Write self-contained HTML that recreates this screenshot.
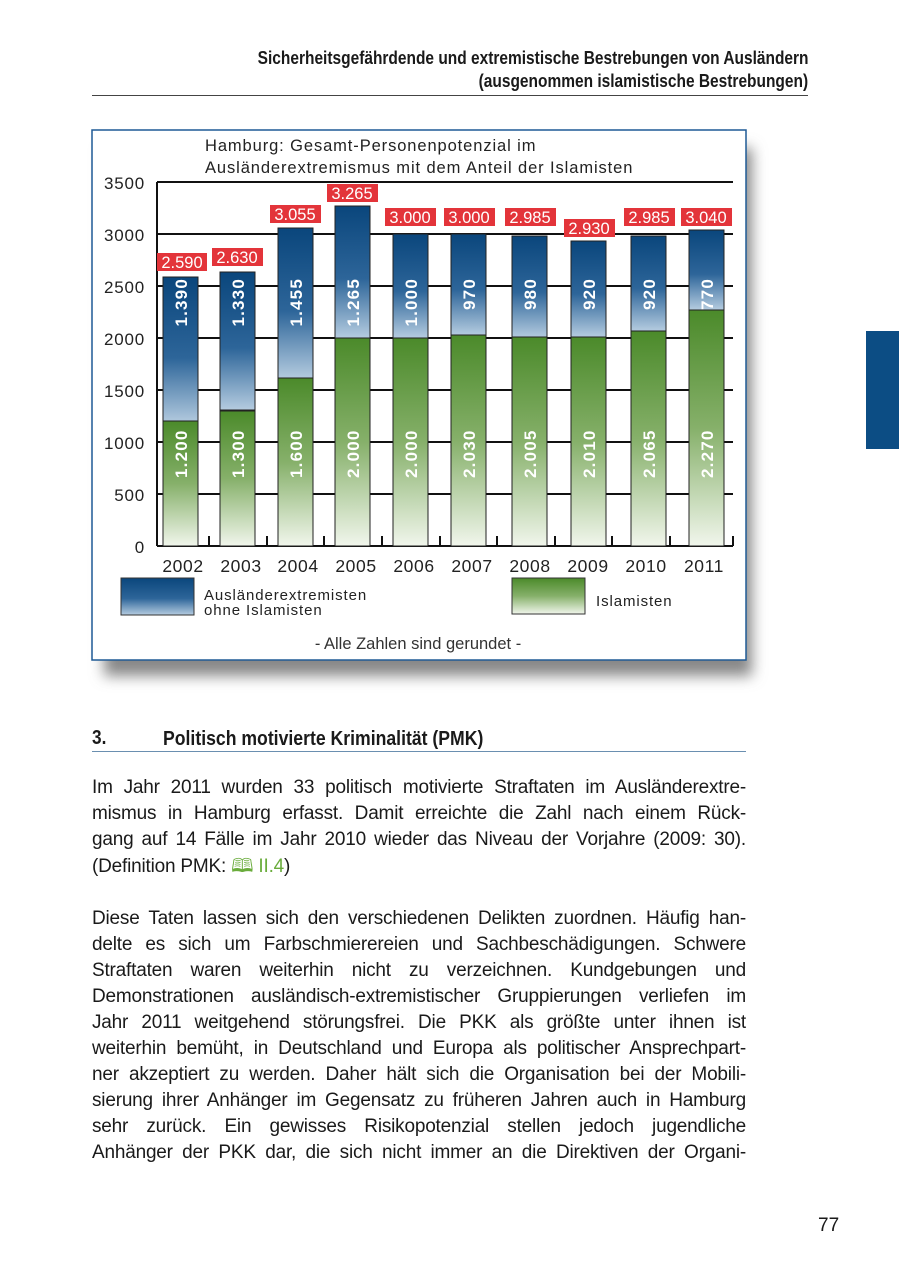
<!DOCTYPE html>
<html><head><meta charset="utf-8">
<style>
body{margin:0;width:900px;height:1276px;background:#fff;position:relative;overflow:hidden;font-family:"Liberation Sans",sans-serif;color:#1a1a1a}
.hd{position:absolute;right:92px;font-weight:bold;font-size:18px;transform:scaleX(0.86);transform-origin:right;white-space:nowrap}
.ln{position:absolute;left:92px;width:654px;font-size:19px;text-align:justify;text-align-last:justify;white-space:nowrap;line-height:22px;letter-spacing:-0.2px}
</style></head><body>
<div class="hd" style="top:48px">Sicherheitsgefährdende und extremistische Bestrebungen von Ausländern</div>
<div class="hd" style="top:71px">(ausgenommen islamistische Bestrebungen)</div>
<div style="position:absolute;left:92px;top:95px;width:716px;height:1px;background:#444"></div>
<div style="position:absolute;left:866px;top:331px;width:33px;height:118px;background:#0c4d84"></div>

<svg style="position:absolute;left:0;top:0" width="900" height="720">
<defs>
<linearGradient id="gb" x1="0" y1="0" x2="0" y2="1"><stop offset="0" stop-color="#0a467c"/><stop offset="0.55" stop-color="#2d6599"/><stop offset="1" stop-color="#b5cce0"/></linearGradient>
<linearGradient id="gg" x1="0" y1="0" x2="0" y2="1"><stop offset="0" stop-color="#4b8a2a"/><stop offset="0.5" stop-color="#86b06a"/><stop offset="1" stop-color="#f1f6ec"/></linearGradient>
<filter id="sh" x="-10%" y="-10%" width="130%" height="130%"><feGaussianBlur stdDeviation="7"/></filter>
</defs>
<rect x="104" y="148" width="648" height="528" fill="#888" filter="url(#sh)"/>
<rect x="92" y="130" width="654" height="530" fill="#fff" stroke="#1f5a95" stroke-width="1.5"/>
<text x="205" y="151" font-size="16.5" letter-spacing="0.9" fill="#222">Hamburg: Gesamt-Personenpotenzial im</text>
<text x="205" y="173" font-size="16.5" letter-spacing="0.9" fill="#222">Ausländerextremismus mit dem Anteil der Islamisten</text>
<g font-size="17" letter-spacing="0.8" fill="#222" text-anchor="end">
<text x="145" y="553">0</text><text x="145" y="501">500</text><text x="145" y="449">1000</text><text x="145" y="397">1500</text><text x="145" y="345">2000</text><text x="145" y="293">2500</text><text x="145" y="241">3000</text><text x="145" y="189">3500</text>
</g>
<g stroke="#111" stroke-width="2">
<line x1="157" y1="182" x2="733" y2="182"/><line x1="157" y1="234" x2="733" y2="234"/><line x1="157" y1="286" x2="733" y2="286"/><line x1="157" y1="338" x2="733" y2="338"/><line x1="157" y1="390" x2="733" y2="390"/><line x1="157" y1="442" x2="733" y2="442"/><line x1="157" y1="494" x2="733" y2="494"/><line x1="157" y1="546" x2="733" y2="546"/>
<line x1="157" y1="182" x2="157" y2="546"/>
</g>
<g stroke="#111" stroke-width="2">
<line x1="209" y1="536" x2="209" y2="546"/><line x1="267" y1="536" x2="267" y2="546"/><line x1="324" y1="536" x2="324" y2="546"/><line x1="382" y1="536" x2="382" y2="546"/><line x1="440" y1="536" x2="440" y2="546"/><line x1="497" y1="536" x2="497" y2="546"/><line x1="555" y1="536" x2="555" y2="546"/><line x1="612" y1="536" x2="612" y2="546"/><line x1="670" y1="536" x2="670" y2="546"/><line x1="733" y1="536" x2="733" y2="546"/>
</g>
<g stroke="#222" stroke-width="1">
<rect x="163" y="277" width="35" height="147" fill="url(#gb)"/><rect x="163" y="421" width="35" height="125" fill="url(#gg)"/>
<rect x="220" y="272" width="35" height="138" fill="url(#gb)"/><rect x="220" y="411" width="35" height="135" fill="url(#gg)"/>
<rect x="278" y="228" width="35" height="151" fill="url(#gb)"/><rect x="278" y="378" width="35" height="168" fill="url(#gg)"/>
<rect x="335" y="206" width="35" height="132" fill="url(#gb)"/><rect x="335" y="338" width="35" height="208" fill="url(#gg)"/>
<rect x="393" y="234" width="35" height="104" fill="url(#gb)"/><rect x="393" y="338" width="35" height="208" fill="url(#gg)"/>
<rect x="451" y="234" width="35" height="101" fill="url(#gb)"/><rect x="451" y="335" width="35" height="211" fill="url(#gg)"/>
<rect x="512" y="236" width="35" height="102" fill="url(#gb)"/><rect x="512" y="337" width="35" height="209" fill="url(#gg)"/>
<rect x="571" y="241" width="35" height="96" fill="url(#gb)"/><rect x="571" y="337" width="35" height="209" fill="url(#gg)"/>
<rect x="631" y="236" width="35" height="95" fill="url(#gb)"/><rect x="631" y="331" width="35" height="215" fill="url(#gg)"/>
<rect x="689" y="230" width="35" height="80" fill="url(#gb)"/><rect x="689" y="310" width="35" height="236" fill="url(#gg)"/>
</g>
<g font-size="17" font-weight="bold" fill="#fff" letter-spacing="1.2">
<text transform="translate(187,278) rotate(-90)" text-anchor="end">1.390</text>
<text transform="translate(244,278) rotate(-90)" text-anchor="end">1.330</text>
<text transform="translate(302,278) rotate(-90)" text-anchor="end">1.455</text>
<text transform="translate(359,278) rotate(-90)" text-anchor="end">1.265</text>
<text transform="translate(417,278) rotate(-90)" text-anchor="end">1.000</text>
<text transform="translate(475,278) rotate(-90)" text-anchor="end">970</text>
<text transform="translate(536,278) rotate(-90)" text-anchor="end">980</text>
<text transform="translate(595,278) rotate(-90)" text-anchor="end">920</text>
<text transform="translate(655,278) rotate(-90)" text-anchor="end">920</text>
<text transform="translate(713,278) rotate(-90)" text-anchor="end">770</text>
<text transform="translate(187,478) rotate(-90)">1.200</text>
<text transform="translate(244,478) rotate(-90)">1.300</text>
<text transform="translate(302,478) rotate(-90)">1.600</text>
<text transform="translate(359,478) rotate(-90)">2.000</text>
<text transform="translate(417,478) rotate(-90)">2.000</text>
<text transform="translate(475,478) rotate(-90)">2.030</text>
<text transform="translate(536,478) rotate(-90)">2.005</text>
<text transform="translate(595,478) rotate(-90)">2.010</text>
<text transform="translate(655,478) rotate(-90)">2.065</text>
<text transform="translate(713,478) rotate(-90)">2.270</text>
</g>
<g fill="#e3343a">
<rect x="157" y="253" width="50" height="18"/><rect x="212" y="248" width="51" height="18"/><rect x="270" y="205" width="51" height="18"/><rect x="327" y="184" width="51" height="18"/><rect x="385" y="208" width="51" height="18"/><rect x="444" y="208" width="51" height="18"/><rect x="505" y="208" width="51" height="18"/><rect x="564" y="219" width="51" height="18"/><rect x="624" y="208" width="51" height="18"/><rect x="681" y="208" width="51" height="18"/>
</g>
<g font-size="16.5" fill="#fff" text-anchor="middle">
<text x="182" y="268">2.590</text><text x="237" y="263">2.630</text><text x="295" y="220">3.055</text><text x="352" y="199">3.265</text><text x="410" y="223">3.000</text><text x="469" y="223">3.000</text><text x="530" y="223">2.985</text><text x="589" y="234">2.930</text><text x="649" y="223">2.985</text><text x="706" y="223">3.040</text>
</g>
<g font-size="17.5" letter-spacing="0.6" fill="#222" text-anchor="middle">
<text x="183" y="572">2002</text><text x="241" y="572">2003</text><text x="298" y="572">2004</text><text x="356" y="572">2005</text><text x="414" y="572">2006</text><text x="472" y="572">2007</text><text x="530" y="572">2008</text><text x="588" y="572">2009</text><text x="646" y="572">2010</text><text x="704" y="572">2011</text>
</g>
<rect x="121" y="578" width="73" height="37" fill="url(#gb)" stroke="#333"/>
<rect x="512" y="578" width="73" height="36" fill="url(#gg)" stroke="#333"/>
<text x="204" y="600" font-size="15" letter-spacing="0.9" fill="#222">Ausländerextremisten</text>
<text x="204" y="615" font-size="15" letter-spacing="0.9" fill="#222">ohne Islamisten</text>
<text x="596" y="606" font-size="15" letter-spacing="0.9" fill="#222">Islamisten</text>
<text x="418" y="649" font-size="16.5" fill="#333" text-anchor="middle">- Alle Zahlen sind gerundet -</text>
</svg>

<div style="position:absolute;left:92px;top:727px;font-weight:bold;font-size:20px;transform:scaleX(0.86);transform-origin:left">3.</div>
<div style="position:absolute;left:163px;top:727px;font-weight:bold;font-size:20.5px;transform:scaleX(0.86);transform-origin:left;white-space:nowrap">Politisch motivierte Kriminalität (PMK)</div>
<div style="position:absolute;left:92px;top:751px;width:654px;height:1px;background:#6a8fb0"></div>

<div class="ln" style="top:777px">Im Jahr 2011 wurden 33 politisch motivierte Straftaten im Ausländerextre-</div>
<div class="ln" style="top:803px">mismus in Hamburg erfasst. Damit erreichte die Zahl nach einem Rück-</div>
<div class="ln" style="top:829px">gang auf 14 Fälle im Jahr 2010 wieder das Niveau der Vorjahre (2009: 30).</div>
<div class="ln" style="top:856px;text-align-last:left">(Definition PMK: <span style="color:#6aac3c">&#x1F56E; II.4</span>)</div>
<div class="ln" style="top:908px">Diese Taten lassen sich den verschiedenen Delikten zuordnen. Häufig han-</div>
<div class="ln" style="top:934px">delte es sich um Farbschmierereien und Sachbeschädigungen. Schwere</div>
<div class="ln" style="top:960px">Straftaten waren weiterhin nicht zu verzeichnen. Kundgebungen und</div>
<div class="ln" style="top:986px">Demonstrationen ausländisch-extremistischer Gruppierungen verliefen im</div>
<div class="ln" style="top:1012px">Jahr 2011 weitgehend störungsfrei. Die PKK als größte unter ihnen ist</div>
<div class="ln" style="top:1038px">weiterhin bemüht, in Deutschland und Europa als politischer Ansprechpart-</div>
<div class="ln" style="top:1064px">ner akzeptiert zu werden. Daher hält sich die Organisation bei der Mobili-</div>
<div class="ln" style="top:1090px">sierung ihrer Anhänger im Gegensatz zu früheren Jahren auch in Hamburg</div>
<div class="ln" style="top:1116px">sehr zurück. Ein gewisses Risikopotenzial stellen jedoch jugendliche</div>
<div class="ln" style="top:1142px">Anhänger der PKK dar, die sich nicht immer an die Direktiven der Organi-</div>
<div style="position:absolute;left:818px;top:1215px;font-size:19px">77</div>
</body></html>
